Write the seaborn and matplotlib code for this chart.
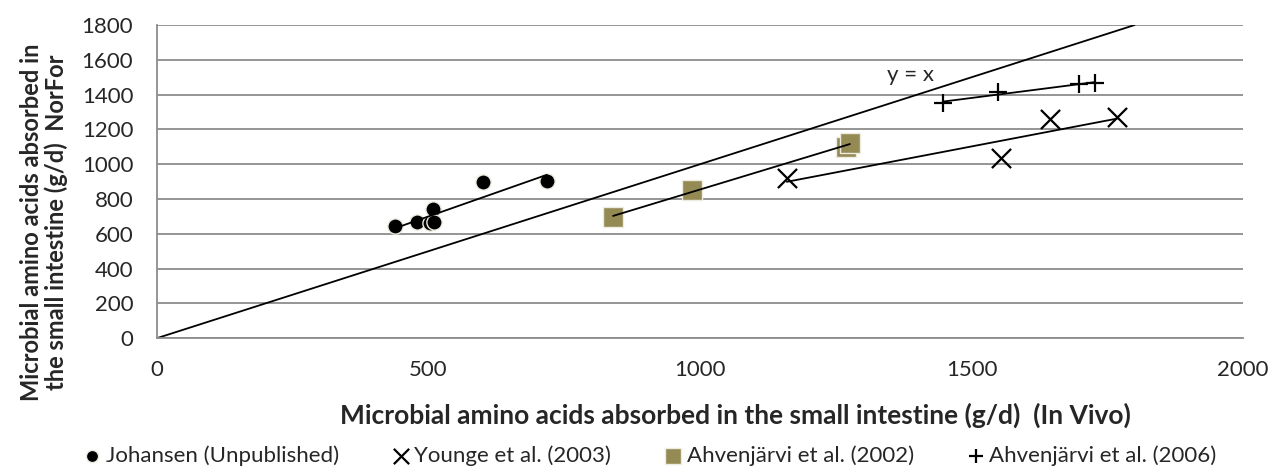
import seaborn as sns
import matplotlib.pyplot as plt
import pandas as pd

# data
johansen_x = [438, 479, 503, 508, 510, 600, 718]
johansen_y = [644, 667, 660, 740, 668, 897, 903]

younge_x = [1160, 1554, 1645, 1768]
younge_y = [920, 1035, 1259, 1271]

ahv2002_x = [840, 985, 1268, 1276]
ahv2002_y = [696, 851, 1100, 1121]

ahv2006_x = [1448, 1549, 1698, 1727]
ahv2006_y = [1351, 1415, 1461, 1466]

ident = [0, 1800]  # y = x reference line

series = [
    ("Johansen (Unpublished)", johansen_x, johansen_y, "o", "black", 120),
    ("Younge et al. (2003)", younge_x, younge_y, "x", "black", 190),
    ("Ahvenjärvi et al. (2002)", ahv2002_x, ahv2002_y, "s", "#948A54", 220),
    ("Ahvenjärvi et al. (2006)", ahv2006_x, ahv2006_y, "+", "black", 170),
]

sns.set_style("white")
plt.rcParams["font.family"] = ["Lato", "DejaVu Sans"]

fig, ax = plt.subplots(figsize=(12.75, 4.73), dpi=100)
fig.subplots_adjust(left=0.123, right=0.975, top=0.947, bottom=0.285)

ax.plot(ident, ident, color="black", lw=1.3, zorder=2)
ax.text(1387, 1512, "y = x", fontsize=16, ha="center", va="center")

for name, xs, ys, mk, col, size in series:
    df = pd.DataFrame({"x": xs, "y": ys})
    if mk in ("x", "+"):
        sns.scatterplot(data=df, x="x", y="y", marker=mk, s=size, color=col,
                        linewidth=1.6, label=name, ax=ax, zorder=3)
    else:
        sns.scatterplot(data=df, x="x", y="y", marker=mk, s=size, color=col,
                        edgecolor="#EEECE1", linewidth=1.0, label=name, ax=ax, zorder=3)
    sns.regplot(data=df, x="x", y="y", scatter=False, ci=None, truncate=True,
                line_kws={"color": "black", "lw": 1.3, "zorder": 4}, ax=ax)

ax.set_xlim(0, 2000)
ax.set_ylim(0, 1800)
ax.set_xticks(range(0, 2001, 500))
ax.set_yticks(range(0, 1801, 200))
ax.tick_params(labelsize=16, length=0)
ax.tick_params(axis="x", pad=16)
ax.tick_params(axis="y", pad=17)
ax.grid(axis="y", color="#8C8C8C", lw=1.3)
ax.set_axisbelow(True)
for s in ["top", "right"]:
    ax.spines[s].set_visible(False)
for s in ["left", "bottom"]:
    ax.spines[s].set_color("#8C8C8C")
    ax.spines[s].set_linewidth(1.3)

ax.set_xlabel("Microbial amino acids absorbed in the small intestine (g/d)  (In Vivo)",
              fontsize=19, fontweight="bold")
ax.xaxis.set_label_coords(0.533, -0.205)
ax.set_ylabel("Microbial amino acids absorbed in\nthe small intestine (g/d)  NorFor",
              fontsize=17, fontweight="bold", linespacing=1.05)
ax.yaxis.set_label_coords(-0.082, 0.37)

handles, labels = ax.get_legend_handles_labels()
ax.legend_.remove()
fig.legend(handles, labels, loc="center", ncol=4, frameon=False,
           fontsize=16, bbox_to_anchor=(0.508, 0.036), handletextpad=0.0,
           columnspacing=2.2, markerscale=0.8, handlelength=1.2)

plt.savefig("out.png", dpi=100)
